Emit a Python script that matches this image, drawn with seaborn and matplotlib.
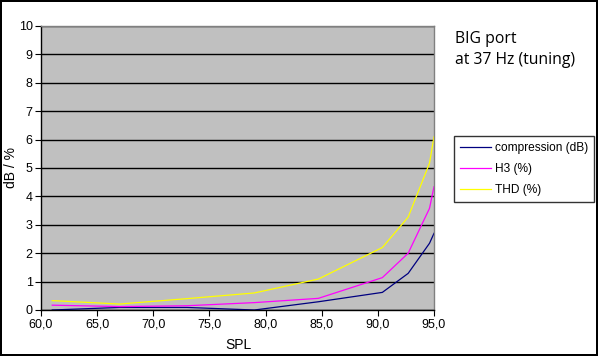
import matplotlib
matplotlib.use("Agg")
import matplotlib.pyplot as plt
import numpy as np
import pandas as pd
import seaborn as sns

# values
spl = [61.0, 67.0, 73.0, 79.0, 84.7, 90.4, 92.7, 94.6, 95.0]
compression = [0.0, 0.09, 0.09, 0.0, 0.29, 0.62, 1.29, 2.35, 2.7]
h3 = [0.17, 0.12, 0.15, 0.26, 0.41, 1.14, 2.0, 3.58, 4.34]
thd = [0.33, 0.21, 0.4, 0.6, 1.09, 2.2, 3.27, 5.17, 6.1]

series_names = ['compression (dB)', 'H3 (%)', 'THD (%)']
series_colors = ['#000080', '#FF00FF', '#FFFF00']

df = pd.DataFrame({
    'SPL': spl * 3,
    'value': compression + h3 + thd,
    'series': np.repeat(series_names, len(spl)),
})

plt.rcParams['font.family'] = ['Liberation Sans', 'DejaVu Sans']

fig = plt.figure(figsize=(5.98, 3.56), dpi=100)
fig.patch.set_edgecolor('black')
fig.patch.set_linewidth(1.5)
ax = fig.add_axes([41 / 598, 1 - 310 / 356, 393 / 598, 284 / 356])
ax.set_facecolor('#C0C0C0')

sns.lineplot(data=df, x='SPL', y='value', hue='series', hue_order=series_names,
             palette=dict(zip(series_names, series_colors)), linewidth=0.9,
             ax=ax, sort=True, estimator=None)

ax.set_xlim(60, 95)
ax.set_ylim(0, 10)
ax.set_xticks(np.arange(60, 96, 5))
ax.set_xticklabels([f'{v:.1f}'.replace('.', ',') for v in np.arange(60, 96, 5)])
ax.set_yticks(np.arange(0, 11, 1))
ax.yaxis.grid(True, color='black', linewidth=1)
ax.set_axisbelow(True)
ax.tick_params(axis='both', labelsize=9, length=4, width=0.8, direction='out',
               colors='black', pad=2)
for side in ['top', 'right']:
    ax.spines[side].set_color('#808080')
    ax.spines[side].set_linewidth(1)
for side in ['left', 'bottom']:
    ax.spines[side].set_color('black')
    ax.spines[side].set_linewidth(1)

# axis titles placed where the reference has them
ax.set_xlabel('SPL', fontsize=10)
ax.xaxis.set_label_coords((238 - 41) / 393, -(345 - 310) / 284)
ax.xaxis.label.set_va('center')
ax.set_ylabel('dB / %', fontsize=10)
ax.yaxis.set_label_coords(-(41 - 11) / 393, 0.5)
ax.yaxis.label.set_va('center')

leg = ax.legend(loc='upper left', bbox_to_anchor=(454 / 598, 1 - 136 / 356),
                bbox_transform=fig.transFigure, frameon=True, fancybox=False,
                fontsize=8.6, handlelength=2.6, handletextpad=0.3,
                labelspacing=0.75, borderaxespad=0, borderpad=0.5)
leg.get_frame().set_edgecolor('black')
leg.get_frame().set_linewidth(1)

fig.text(455 / 598, 1 - 39 / 356, 'BIG port', fontsize=11.3,
         family=['Open Sans', 'DejaVu Sans'], va='center', ha='left')
fig.text(455 / 598, 1 - 60 / 356, 'at 37 Hz (tuning)', fontsize=11.3,
         family=['Open Sans', 'DejaVu Sans'], va='center', ha='left')

fig.savefig('out.png', dpi=100, edgecolor=fig.get_edgecolor())
